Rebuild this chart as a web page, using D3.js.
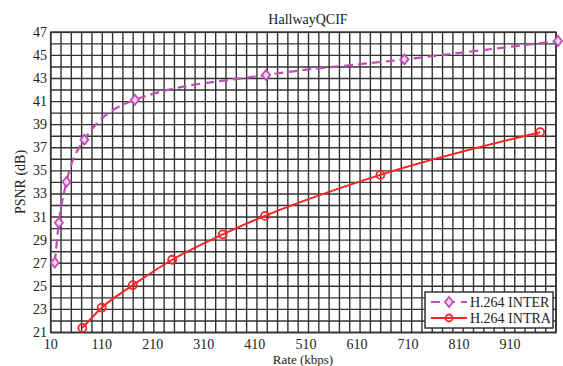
<!DOCTYPE html>
<html>
<head>
<meta charset="utf-8">
<script src="https://cdn.jsdelivr.net/npm/d3@7"></script>
<style>
  body { margin: 0; background: #fff; }
  text { font-family: "Liberation Serif", "Times New Roman", serif; fill: #222; }
</style>
</head>
<body>
<svg id="chart" width="563" height="366"></svg>
<script>
const title = 'HallwayQCIF';
const xTicks = [10, 110, 210, 310, 410, 510, 610, 710, 810, 910];
const yTicks = [21, 23, 25, 27, 29, 31, 33, 35, 37, 39, 41, 43, 45, 47];

const interRate = [18, 26, 41, 76, 175, 432, 703, 1004];
const interPsnr = [27.05, 30.5, 34.05, 37.7, 41.15, 43.3, 44.65, 46.25];
const intraRate = [72, 110, 171, 248, 347, 430, 656, 969];
const intraPsnr = [21.4, 23.15, 25.1, 27.3, 29.5, 31.1, 34.65, 38.35];

const svg = d3.select('#chart');
const plotLeft = 50.7, plotRight = 556, plotTop = 32.3, plotBottom = 332.5;

const x = d3.scaleLinear().domain([10, 1000]).range([plotLeft, plotRight]);
const y = d3.scaleLinear().domain([21, 47]).range([plotBottom, plotTop]);

const gridColor = '#333';

// grid: 49 columns, 26 rows
const grid = svg.append('g');
grid.selectAll('line.v')
  .data(d3.range(50))
  .enter()
  .append('line')
  .attr('x1', i => x(10 + i * 990 / 49))
  .attr('x2', i => x(10 + i * 990 / 49))
  .attr('y1', plotTop)
  .attr('y2', plotBottom)
  .attr('stroke', gridColor)
  .attr('stroke-width', 1.4);

grid.selectAll('line.h')
  .data(d3.range(21, 48))
  .enter()
  .append('line')
  .attr('x1', plotLeft)
  .attr('x2', plotRight)
  .attr('y1', d => y(d))
  .attr('y2', d => y(d))
  .attr('stroke', gridColor)
  .attr('stroke-width', 1.4);

svg.append('rect')
  .attr('x', plotLeft)
  .attr('y', plotTop)
  .attr('width', plotRight - plotLeft)
  .attr('height', plotBottom - plotTop)
  .attr('fill', 'none')
  .attr('stroke', gridColor)
  .attr('stroke-width', 1.6);

// tick labels
svg.selectAll('text.xt')
  .data(xTicks)
  .enter()
  .append('text')
  .attr('x', d => x(d))
  .attr('y', 349)
  .attr('text-anchor', 'middle')
  .style('font-size', '14px')
  .text(d => d);

svg.selectAll('text.yt')
  .data(yTicks)
  .enter()
  .append('text')
  .attr('x', 47)
  .attr('y', d => y(d) + 4.5)
  .attr('text-anchor', 'end')
  .style('font-size', '14px')
  .text(d => d);

svg.append('text')
  .attr('x', 308)
  .attr('y', 24)
  .attr('text-anchor', 'middle')
  .style('font-size', '14px')
  .text(title);

svg.append('text')
  .attr('x', 303)
  .attr('y', 364)
  .attr('text-anchor', 'middle')
  .style('font-size', '13px')
  .text('Rate (kbps)');

svg.append('text')
  .attr('transform', 'translate(25,182) rotate(-90)')
  .attr('text-anchor', 'middle')
  .style('font-size', '14px')
  .text('PSNR (dB)');

// series
const magenta = '#c04fb4';
const red = '#ff2222';

const line = d3.line()
  .x(d => x(d[0]))
  .y(d => y(d[1]))
  .curve(d3.curveMonotoneX);

const interData = interRate.map((r, i) => [r, interPsnr[i]]);
const intraData = intraRate.map((r, i) => [r, intraPsnr[i]]);

svg.append('path')
  .datum(interData)
  .attr('d', line)
  .attr('fill', 'none')
  .attr('stroke', magenta)
  .attr('stroke-width', 2.2)
  .attr('stroke-dasharray', '9,5');

svg.append('path')
  .datum(intraData)
  .attr('d', line)
  .attr('fill', 'none')
  .attr('stroke', red)
  .attr('stroke-width', 2);

const diamond = 'M0,-5L4,0L0,5L-4,0Z';

svg.selectAll('path.inter')
  .data(interData)
  .enter()
  .append('path')
  .attr('d', diamond)
  .attr('transform', d => `translate(${x(d[0])},${y(d[1])})`)
  .attr('fill', '#f3d8ee')
  .attr('stroke', magenta)
  .attr('stroke-width', 1.8);

svg.selectAll('circle.intra')
  .data(intraData)
  .enter()
  .append('circle')
  .attr('cx', d => x(d[0]))
  .attr('cy', d => y(d[1]))
  .attr('r', 4)
  .attr('fill', 'none')
  .attr('stroke', red)
  .attr('stroke-width', 1.8);

// legend
const legend = svg.append('g').attr('transform', 'translate(425,292)');
legend.append('rect')
  .attr('width', 128)
  .attr('height', 36)
  .attr('fill', '#fff')
  .attr('stroke', '#333')
  .attr('stroke-width', 1.5);

legend.append('line')
  .attr('x1', 6).attr('x2', 42).attr('y1', 10).attr('y2', 10)
  .attr('stroke', magenta).attr('stroke-width', 2.2)
  .attr('stroke-dasharray', '9,6');
legend.append('path')
  .attr('d', diamond)
  .attr('transform', 'translate(24,10)')
  .attr('fill', '#f3d8ee')
  .attr('stroke', magenta)
  .attr('stroke-width', 1.8);
legend.append('text')
  .attr('x', 45).attr('y', 14.5)
  .style('font-size', '14px')
  .text('H.264 INTER');

legend.append('line')
  .attr('x1', 6).attr('x2', 42).attr('y1', 26).attr('y2', 26)
  .attr('stroke', red).attr('stroke-width', 2);
legend.append('circle')
  .attr('cx', 24).attr('cy', 26).attr('r', 3.5)
  .attr('fill', 'none')
  .attr('stroke', red)
  .attr('stroke-width', 1.8);
legend.append('text')
  .attr('x', 45).attr('y', 30.5)
  .style('font-size', '14px')
  .text('H.264 INTRA');
</script>
</body>
</html>
